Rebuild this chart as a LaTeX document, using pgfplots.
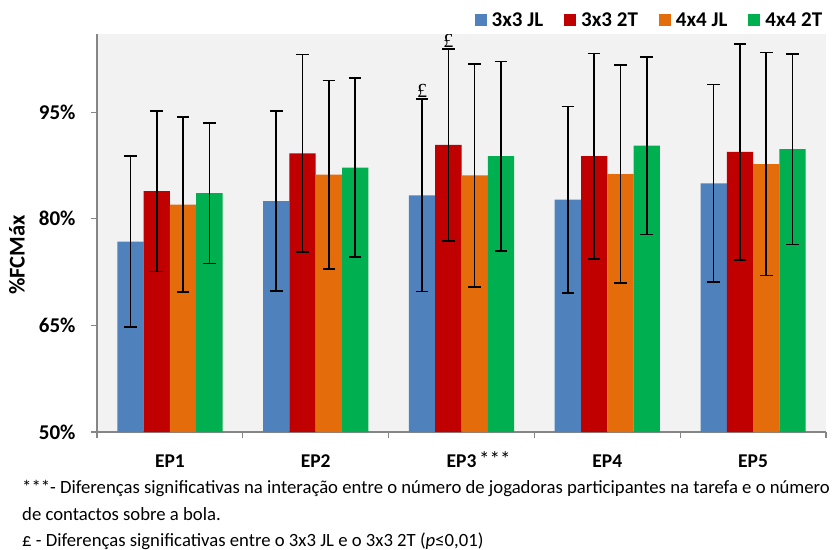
\documentclass[border=0pt]{standalone}
\usepackage{fontspec}
\setmainfont{Carlito}
\newfontfamily\seriffont{Liberation Serif}
\usepackage{pgfplots}
\pgfplotsset{compat=1.18}
\definecolor{cblue}{HTML}{4F81BD}
\definecolor{cred}{HTML}{C00000}
\definecolor{corange}{HTML}{E46C0A}
\definecolor{cgreen}{HTML}{00B050}
\definecolor{bggray}{HTML}{F2F2F2}
\definecolor{axgray}{HTML}{868686}
\pgfplotstableread{
x y e
0 76.8 12.0
1 82.5 12.65
2 83.3 13.55
3 82.7 13.1
4 85.0 13.9
}\tblue
\pgfplotstableread{
x y e
0 83.9 11.3
1 89.2 13.9
2 90.4 13.5
3 88.8 14.45
4 89.4 15.2
}\tred
\pgfplotstableread{
x y e
0 82.0 12.3
1 86.2 13.25
2 86.1 15.7
3 86.3 15.3
4 87.7 15.7
}\torange
\pgfplotstableread{
x y e
0 83.6 9.9
1 87.2 12.6
2 88.8 13.35
3 90.3 12.5
4 89.8 13.4
}\tgreen
\begin{document}
\begin{tikzpicture}
\useasboundingbox (0pt,0pt) rectangle (835pt,-549pt);
\begin{axis}[
  at={(97pt,-432pt)}, anchor=south west,
  scale only axis, width=729pt, height=398pt,
  xmin=-0.5, xmax=4.5, ymin=50, ymax=106,
  ybar=0pt, bar width=26.3pt,
  axis background/.style={fill=bggray},
  axis x line*=bottom, axis y line*=left,
  axis line style={draw=axgray, line width=1.2pt},
  tick style={draw=axgray, line width=1.2pt},
  tick align=outside, major tick length=6pt,
  ytick={50,65,80,95},
  yticklabels={50\%,65\%,80\%,95\%},
  yticklabel style={font=\bfseries\fontsize{21}{24}\selectfont, anchor=east, xshift=-12pt},
  xtick={-0.5,0.5,...,4.5}, xticklabels={},
  extra x ticks={0,1,2,3,4},
  extra x tick labels={EP1,EP2,EP3,EP4,EP5},
  extra x tick style={major tick length=0pt},
  xticklabel style={font=\bfseries\fontsize{19.5}{22}\selectfont, anchor=base, yshift=-35pt},
  /pgf/number format/assume math mode=true,
  error bars/y dir=both, error bars/y explicit,
  error bars/error bar style={line width=1.6pt, black},
  error bars/error mark options={rotate=90, mark size=6.3pt, line width=1.6pt, black},
  legend columns=4,
  legend image code/.code={\path (-21pt,0pt); \fill[#1] (0pt,-6pt) rectangle (12pt,6pt);},
  legend style={draw=none, fill=none, at={(axis description cs:0.995,1.035)}, anchor=east,
    font=\bfseries\fontsize{21}{24}\selectfont,
    nodes={inner sep=0pt},
    /tikz/every odd column/.append style={column sep=5pt},
    inner sep=0pt},
]
\addplot[fill=cblue, draw=none] table[x=x,y=y,y error=e]{\tblue};
\addplot[fill=cred, draw=none] table[x=x,y=y,y error=e]{\tred};
\addplot[fill=corange, draw=none] table[x=x,y=y,y error=e]{\torange};
\addplot[fill=cgreen, draw=none] table[x=x,y=y,y error=e]{\tgreen};
\legend{3x3 JL,3x3 2T,4x4 JL,4x4 2T}
\node[anchor=south, inner sep=0.5pt, font=\seriffont\fontsize{20}{22}\selectfont] at (axis cs:1.7294,96.9) {£};
\node[anchor=south, inner sep=0.5pt, font=\seriffont\fontsize{20}{22}\selectfont] at (axis cs:1.9098,104.0) {£};
\end{axis}
\node[rotate=90, font=\bfseries\fontsize{22.5}{26}\selectfont] at (17pt,-255pt) {\%FCMáx};
\node[anchor=base west, inner sep=0pt, font=\fontsize{21}{24}\selectfont] at (479pt,-466pt) {***};
\begin{scope}[every node/.style={anchor=base west, inner sep=0pt, font=\fontsize{18.7}{22}\selectfont}]
\node at (22pt,-493pt) {***- Diferenças significativas na interação entre o número de jogadoras participantes na tarefa e o número};
\node at (22pt,-520pt) {de contactos sobre a bola.};
\node at (22pt,-546pt) {£ - Diferenças significativas entre o 3x3 JL e o 3x3 2T (\textit{p}≤0,01)};
\end{scope}
\end{tikzpicture}
\end{document}
